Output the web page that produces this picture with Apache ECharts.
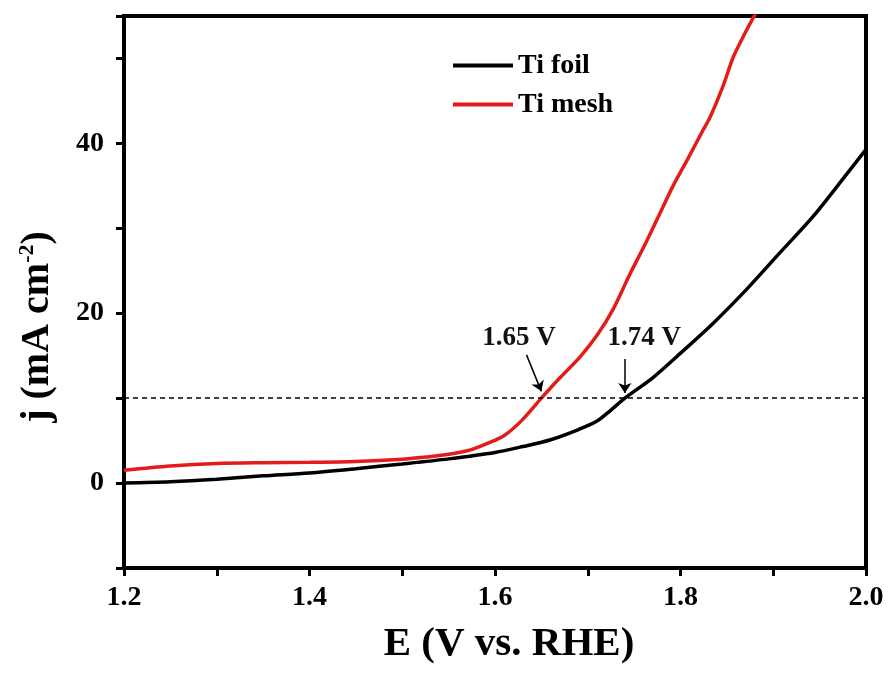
<!DOCTYPE html>
<html>
<head>
<meta charset="utf-8">
<title>LSV polarization curves</title>
<script src="https://cdn.jsdelivr.net/npm/echarts@6/dist/echarts.min.js"></script>
<style>
  html, body { margin: 0; padding: 0; background: #fff; }
  #chart { width: 890px; height: 675px; }
</style>
</head>
<body>
<div id="chart"></div>
<script>
// Potential (V vs. RHE) and current density (mA cm^-2) for each electrode
const foilE = [1.20, 1.25, 1.30, 1.35, 1.40, 1.45, 1.50, 1.55, 1.60, 1.63, 1.66, 1.69, 1.71, 1.725, 1.74, 1.77, 1.80, 1.835, 1.872, 1.907, 1.943, 1.98, 2.00];
const foilJ = [0.0, 0.15, 0.45, 0.85, 1.2, 1.7, 2.25, 2.85, 3.6, 4.3, 5.1, 6.3, 7.3, 8.6, 10.0, 12.4, 15.3, 18.8, 22.9, 27.1, 31.4, 36.5, 39.3];

const meshE = [1.20, 1.25, 1.30, 1.35, 1.40, 1.45, 1.50, 1.52, 1.55, 1.57, 1.59, 1.61, 1.63, 1.65, 1.67, 1.692, 1.71, 1.727, 1.745, 1.764, 1.778, 1.792, 1.807, 1.824, 1.832, 1.845, 1.857, 1.865, 1.872, 1.882];
const meshJ = [1.5, 2.0, 2.3, 2.4, 2.45, 2.55, 2.8, 3.0, 3.4, 3.8, 4.6, 5.6, 7.5, 10.0, 12.4, 14.9, 17.4, 20.4, 24.5, 28.6, 31.8, 35.0, 38.0, 41.5, 43.1, 46.5, 50.2, 52.0, 53.5, 55.5];

const seriesNames = ['Ti foil', 'Ti mesh'];

// Benchmark current density and the potentials where each curve reaches it
const benchmarkJ = 10;
const onsetE = [1.65, 1.74];
// Arrow tails (E, j), arrow-tip current densities and label centres (E, j)
const arrowTails = [[1.634, 15.1], [1.74, 14.6]];
const arrowTipJ = [10.8, 10.6];
const labelPos = [[1.626, 17.1], [1.761, 17.1]];

// Axis ranges and tick steps
const xMin = 1.2, xMax = 2.0, xStep = 0.1;
const yMin = -10, yMax = 55, yStep = 10;

const FONT = '"Liberation Serif", "Times New Roman", serif';
const RED = '#e41b1b';

const zip = (xs, ys) => xs.map((x, i) => [x, ys[i]]);

const chart = echarts.init(document.getElementById('chart'), null, { renderer: 'canvas' });

const option = {
  backgroundColor: '#ffffff',
  animation: false,
  grid: {
    left: 124, right: 24, top: 16, bottom: 107,
    show: true, borderColor: '#000', borderWidth: 4, backgroundColor: 'transparent'
  },
  legend: {
    data: seriesNames.map((n, i) => ({ name: n, icon: 'rect', itemStyle: { color: i ? RED : '#000' } })),
    orient: 'vertical',
    left: 448, top: 45,
    itemWidth: 60, itemHeight: 4, itemGap: 8,
    textStyle: { fontFamily: FONT, fontSize: 28, fontWeight: 'bold', color: '#000', lineHeight: 31 }
  },
  xAxis: {
    type: 'value',
    min: xMin, max: xMax, interval: xStep,
    axisLine: { onZero: false, lineStyle: { color: '#000', width: 4 } },
    axisTick: { inside: false, length: 8, lineStyle: { color: '#000', width: 3 } },
    splitLine: { show: false },
    axisLabel: {
      margin: 16,
      fontFamily: FONT, fontSize: 28, fontWeight: 'bold', color: '#000',
      formatter: v => (Math.round(v * 10) % 2 === 0 ? v.toFixed(1) : '')
    },
    name: 'E (V vs. RHE)',
    nameLocation: 'middle',
    nameGap: 56,
    nameTextStyle: { fontFamily: FONT, fontSize: 41, fontWeight: 'bold', color: '#000', padding: [0, 0, 0, 28] }
  },
  yAxis: {
    type: 'value',
    min: yMin, max: yMax, interval: yStep,
    axisLine: { onZero: false, lineStyle: { color: '#000', width: 4 } },
    axisTick: { inside: false, length: 8, lineStyle: { color: '#000', width: 3 } },
    splitLine: { show: false },
    axisLabel: {
      margin: 20,
      fontFamily: FONT, fontSize: 28, fontWeight: 'bold', color: '#000',
      formatter: v => (v % 20 === 0 && v >= 0 && v <= 40 ? String(v) : '')
    },
    name: '{b|j (mA cm}{s|-2}{b|)}',
    nameLocation: 'middle',
    nameRotate: 90,
    nameGap: 64,
    nameTextStyle: {
      color: '#000',
      padding: [0, 70, 0, 0],
      rich: {
        b: { fontFamily: FONT, fontSize: 40, fontWeight: 'bold', color: '#000', lineHeight: 44 },
        s: { fontFamily: FONT, fontSize: 22, fontWeight: 'bold', color: '#000', verticalAlign: 'top', lineHeight: 44, padding: [0, 0, 18, 0] }
      }
    }
  },
  series: [
    {
      name: seriesNames[0],
      type: 'line',
      data: zip(foilE, foilJ),
      symbol: 'none',
      smooth: 0.3,
      lineStyle: { color: '#000', width: 3.5 },
      itemStyle: { color: '#000' },
      z: 3,
      markLine: {
        silent: true,
        symbol: ['none', 'none'],
        label: { show: false },
        lineStyle: { color: '#000', width: 1.5, type: [5, 4] },
        data: [[{ coord: [xMin, benchmarkJ] }, { coord: [xMax, benchmarkJ] }]]
      }
    },
    {
      name: seriesNames[1],
      type: 'line',
      data: zip(meshE, meshJ),
      symbol: 'none',
      smooth: 0.3,
      clip: true,
      lineStyle: { color: RED, width: 3.5 },
      itemStyle: { color: RED },
      z: 4
    },
    {
      name: 'callouts',
      type: 'scatter',
      data: onsetE.map((e, i) => ({ value: labelPos[i], text: e.toFixed(2) + ' V' })),
      symbol: 'circle',
      symbolSize: 0,
      itemStyle: { color: '#000', opacity: 1 },
      label: {
        show: true,
        position: 'inside',
        formatter: p => p.data.text,
        fontFamily: FONT, fontSize: 27, fontWeight: 'bold', color: '#111',
        opacity: 1, textBorderWidth: 0
      },
      z: 5,
      markLine: {
        silent: true,
        symbol: ['none', 'arrow'],
        symbolSize: 10,
        label: { show: false },
        lineStyle: { color: '#000', width: 1.5, type: 'solid' },
        itemStyle: { color: '#000' },
        data: onsetE.map((e, i) => [
          { coord: arrowTails[i] },
          { coord: [e, arrowTipJ[i]] }
        ])
      }
    }
  ]
};

chart.setOption(option);
</script>
</body>
</html>
